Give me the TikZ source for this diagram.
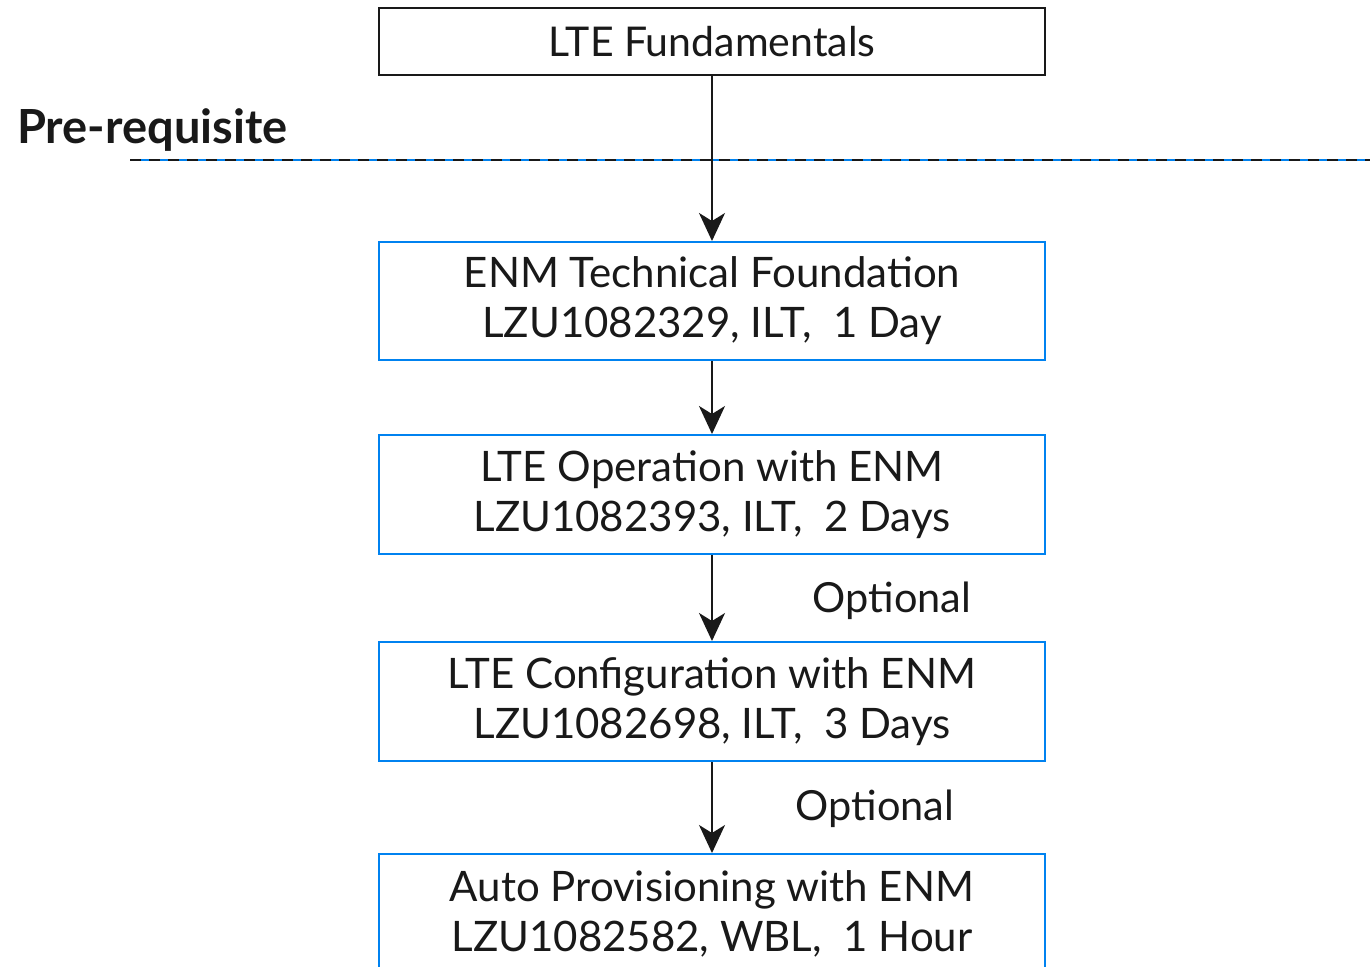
\documentclass[tikz,border=0pt]{standalone}
\usepackage{fontspec}
\setmainfont{Lato}
\usetikzlibrary{arrows.meta}
\definecolor{ebl}{RGB}{0,130,240}
\definecolor{txt}{RGB}{25,25,25}
\tikzset{
  box/.style={draw=ebl, line width=2pt, minimum width=666pt, align=center, inner sep=0pt, text=txt, font=\fontsize{42}{50}\selectfont},
  topbox/.style={draw=txt, line width=2pt, minimum width=666pt, minimum height=67pt, inner sep=0pt, text=txt, font=\fontsize{41}{50}\selectfont},
  conn/.style={draw=txt, line width=2pt, -{Stealth[length=28pt,width=26pt,inset=8pt]}},
  lbl/.style={text=txt, font=\fontsize{41.5}{46}\selectfont, inner sep=0pt},
}
\begin{document}
\begin{tikzpicture}[x=1pt,y=-1pt]
\useasboundingbox (0,0) rectangle (1370,966);
\clip (0,0) rectangle (1370,966);
\fill[white] (0,0) rectangle (1370,966);
\node[topbox] (a) at (712,41.5) {LTE Fundamentals};
\node[lbl, anchor=west, font=\bfseries\fontsize{47}{50}\selectfont] (pre) at (17,130) {Pre-requisite};
\coordinate (dl) at (130,160);
\coordinate (dr) at (1370,160);
\draw[ebl, line width=1.5pt] (dl) -- (dr);
\draw[txt, line width=2.5pt, dash pattern=on 11pt off 8pt] (dl) -- (dr);
\node[box, minimum height=118pt] (b) at (712,301) {ENM Technical Foundation\\LZU1082329, ILT,\ \ 1 Day};
\node[box, minimum height=119pt] (c) at (712,494.5) {LTE Operation with ENM\\LZU1082393, ILT,\ \ 2 Days};
\node[box, minimum height=119pt] (d) at (712,701.5) {LTE Configuration with ENM\\LZU1082698, ILT,\ \ 3 Days};
\node[box, minimum height=119pt] (e) at (712,913.5) {Auto Provisioning with ENM\\LZU1082582, WBL,\ \ 1 Hour};
\draw[conn] (a) -- (b);
\draw[conn] (b) -- (c);
\draw[conn] (c) -- (d);
\draw[conn] (d) -- (e);
\node[lbl] (o1) at (892,601) {Optional};
\node[lbl] (o2) at (875,809) {Optional};
\end{tikzpicture}
\end{document}
